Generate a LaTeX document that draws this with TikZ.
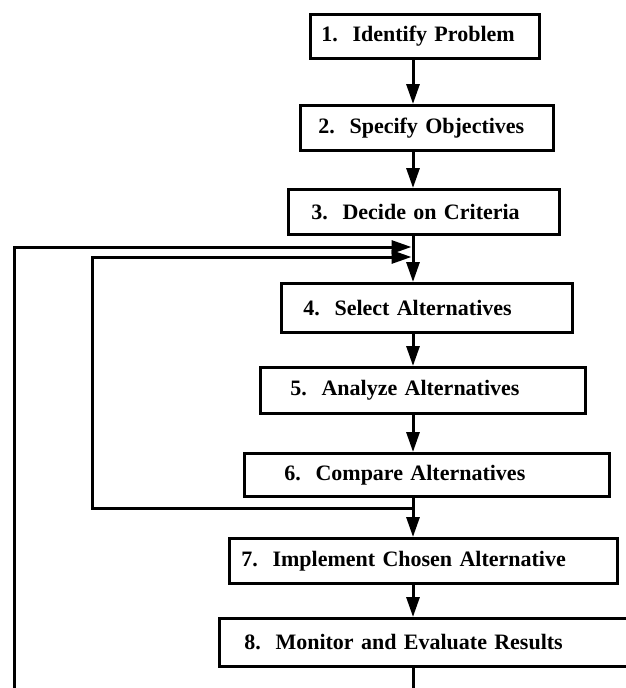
\documentclass[tikz,border=0pt]{standalone}
\usepackage{fontspec}
\setmainfont[WordSpace=0.7]{Liberation Serif}
\usetikzlibrary{arrows.meta}

\begin{document}
\begin{tikzpicture}[x=1pt, y=-1pt,
  stepbox/.style={draw, line width=2.8pt, anchor=north west, align=left,
    inner ysep=0pt, font=\fontsize{22}{24}\selectfont\bfseries},
  flow/.style={line width=3pt, -{Triangle[length=20pt, width=13pt]}}]

\useasboundingbox (0,0) rectangle (626,688);
\clip (0,0) rectangle (626,688);

% process steps: (left, top), height, text inset, text width
\node[stepbox, minimum height=44pt, inner xsep=11pt, text width=207pt] (s1) at (309,13) {1.\ \ Identify Problem};
\node[stepbox, minimum height=45pt, inner xsep=18pt, text width=217pt] (s2) at (299,104) {2.\ \ Specify Objectives};
\node[stepbox, minimum height=45pt, inner xsep=23pt, text width=225pt] (s3) at (287,188) {3.\ \ Decide on Criteria};
\node[stepbox, minimum height=49pt, inner xsep=22pt, text width=247pt] (s4) at (280,282) {4.\ \ Select Alternatives};
\node[stepbox, minimum height=46pt, inner xsep=30pt, text width=265pt] (s5) at (259,366) {5.\ \ Analyze Alternatives};
\node[stepbox, minimum height=43pt, inner xsep=40pt, text width=285pt] (s6) at (243,452) {6.\ \ Compare Alternatives};
\node[stepbox, minimum height=45pt, inner xsep=12pt, text width=364pt] (s7) at (228,537) {7.\ \ Implement Chosen Alternative};
\node[stepbox, minimum height=48pt, inner xsep=25pt, text width=382pt] (s8) at (218,617) {8.\ \ Monitor and Evaluate Results};

% vertical spine and junction points
\coordinate (spine) at (413,0);
\coordinate (j1) at (413,247);
\coordinate (j2) at (413,257);
\coordinate (inner) at (92,508);
\coordinate (outer) at (14,705);

% forward flow
\draw[flow] (s1.south -| spine) -- (s2.north -| spine);
\draw[flow] (s2.south -| spine) -- (s3.north -| spine);
\draw[flow] (s3.south -| spine) -- (s4.north -| spine);
\draw[flow] (s4.south -| spine) -- (s5.north -| spine);
\draw[flow] (s5.south -| spine) -- (s6.north -| spine);
\draw[flow] (s6.south -| spine) -- (s7.north -| spine);
\draw[flow] (s7.south -| spine) -- (s8.north -| spine);

% feedback loops
\draw[flow, shorten >=1.5pt] (s6.south -| spine) |- (inner) |- (j2);
\draw[flow, shorten >=1.5pt] (s8.south -| spine) |- (outer) |- (j1);

\end{tikzpicture}
\end{document}
